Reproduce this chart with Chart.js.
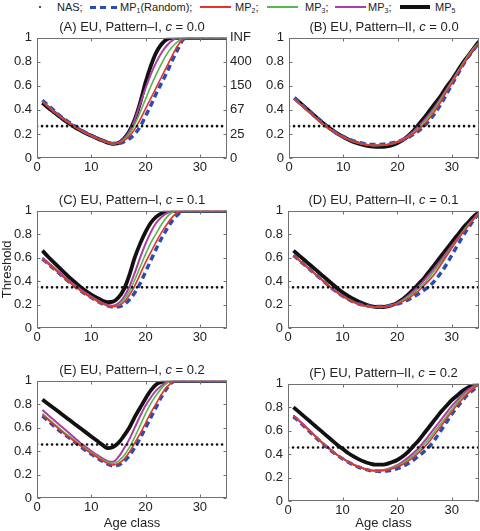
<!DOCTYPE html>
<html>
<head>
<meta charset="utf-8">
<script src="https://cdn.jsdelivr.net/npm/chart.js@4.4.1/dist/chart.umd.min.js"></script>
<style>
  body { margin: 0; background: #fff; width: 480px; height: 531px; position: relative; overflow: hidden;
         font-family: "Liberation Sans", Arial, sans-serif; color: #222; }
  canvas { position: absolute; }
  .title { position: absolute; font-size: 13px; white-space: nowrap; transform: translate(-50%, -50%); }
  .legtext { position: absolute; top: 1px; font-size: 11px; white-space: nowrap; }
  .legtext sub { font-size: 7px; vertical-align: -2px; }
  .legline { position: absolute; }
</style>
</head>
<body>
<div id="legend"></div>
<script>
// Age classes on the x axis
const ages = [1,2,3,4,5,6,7,8,9,10,11,12,13,14,15,16,17,18,19,20,21,22,23,24,25,26,27,28,29,30,31,32,33,34,35];
const xRange = [0, 35];
const rightTickLabels = ['0', '25', '67', '150', '400', 'INF'];
const nasLevels = [0.265, 0.265, 0.347, 0.347, 0.457, 0.457];
const panelLetters = ['A', 'B', 'C', 'D', 'E', 'F'];
const panelPatterns = ['I', 'II', 'I', 'II', 'I', 'II'];
const panelC = ['0.0', '0.0', '0.1', '0.1', '0.2', '0.2'];

// (A) Pattern-I, c = 0.0
const aBlue    = [.48,.44,.40,.36,.325,.295,.265,.237,.21,.188,.167,.148,.132,.12,.122,.135,.16,.20,.26,.35,.44,.54,.63,.72,.82,.91,.99,1,1,1,1,1,1,1,1];
const aRed     = [.47,.43,.39,.355,.32,.29,.26,.232,.207,.185,.165,.147,.13,.12,.125,.145,.18,.24,.32,.41,.50,.59,.68,.77,.86,.94,.99,1,1,1,1,1,1,1,1];
const aGreen   = [.47,.43,.39,.355,.32,.29,.26,.232,.207,.185,.165,.147,.13,.12,.125,.15,.20,.28,.38,.49,.60,.70,.79,.87,.93,.97,1,1,1,1,1,1,1,1,1];
const aMagenta = [.47,.43,.39,.355,.32,.29,.26,.232,.207,.185,.165,.147,.13,.12,.128,.16,.22,.32,.45,.58,.70,.80,.88,.94,.98,1,1,1,1,1,1,1,1,1,1];
const aBlack   = [.46,.42,.385,.35,.315,.285,.255,.23,.205,.185,.165,.145,.128,.117,.125,.16,.22,.32,.46,.63,.77,.88,.95,.99,1,1,1,1,1,1,1,1,1,1,1];

// (B) Pattern-II, c = 0.0
const bBlue    = [.50,.46,.42,.38,.34,.30,.263,.232,.203,.178,.157,.14,.127,.118,.113,.112,.113,.117,.125,.137,.152,.172,.198,.23,.27,.32,.38,.45,.53,.61,.69,.77,.84,.90,.96];
const bRed     = [.49,.45,.41,.37,.33,.292,.258,.227,.198,.174,.153,.135,.122,.113,.107,.105,.106,.11,.12,.132,.15,.175,.205,.24,.285,.34,.40,.47,.55,.62,.70,.77,.84,.90,.96];
const bGreen   = [.49,.45,.41,.37,.33,.292,.258,.227,.198,.174,.153,.135,.122,.113,.107,.105,.106,.11,.12,.133,.152,.178,.212,.255,.305,.36,.42,.49,.56,.63,.71,.78,.85,.91,.96];
const bMagenta = [.49,.45,.41,.37,.33,.292,.258,.227,.198,.174,.153,.135,.122,.113,.107,.105,.106,.11,.12,.135,.157,.187,.225,.27,.32,.375,.435,.50,.57,.64,.71,.78,.85,.91,.96];
const bBlack   = [.50,.46,.42,.38,.34,.30,.265,.232,.20,.175,.152,.132,.117,.105,.097,.093,.093,.097,.107,.125,.15,.185,.23,.285,.34,.40,.46,.52,.59,.65,.72,.79,.85,.91,.97];

// (C) Pattern-I, c = 0.1
const cBlue    = [.59,.55,.51,.47,.43,.39,.355,.32,.288,.26,.232,.208,.19,.18,.182,.20,.24,.30,.38,.48,.58,.68,.77,.85,.92,.97,1,1,1,1,1,1,1,1,1];
const cRed     = [.59,.55,.51,.47,.43,.39,.355,.32,.288,.26,.232,.208,.19,.183,.19,.22,.28,.36,.46,.56,.65,.74,.82,.89,.95,.99,1,1,1,1,1,1,1,1,1];
const cGreen   = [.59,.55,.51,.47,.43,.39,.355,.32,.288,.26,.232,.208,.19,.183,.195,.24,.31,.41,.52,.63,.73,.81,.89,.95,.99,1,1,1,1,1,1,1,1,1,1];
const cMagenta = [.60,.56,.52,.48,.44,.40,.365,.33,.297,.268,.24,.215,.197,.19,.21,.265,.35,.47,.60,.72,.82,.90,.95,.98,1,1,1,1,1,1,1,1,1,1,1];
const cBlack   = [.66,.61,.565,.52,.475,.43,.39,.35,.315,.285,.258,.235,.22,.225,.26,.33,.45,.60,.72,.82,.90,.95,.98,1,1,1,1,1,1,1,1,1,1,1,1];

// (D) Pattern-II, c = 0.1
const dBlue    = [.62,.58,.54,.50,.46,.42,.38,.34,.305,.272,.245,.222,.205,.193,.186,.183,.184,.188,.195,.205,.22,.24,.265,.295,.325,.36,.41,.47,.54,.62,.70,.78,.85,.92,.98];
const dRed     = [.62,.58,.54,.50,.46,.42,.38,.34,.305,.272,.245,.222,.203,.19,.182,.178,.178,.183,.193,.207,.225,.25,.285,.32,.365,.415,.47,.54,.61,.68,.75,.81,.87,.93,.98];
const dGreen   = [.62,.58,.54,.50,.46,.42,.38,.34,.305,.272,.245,.222,.203,.19,.182,.178,.178,.183,.195,.21,.235,.265,.30,.34,.385,.44,.50,.56,.62,.69,.75,.82,.88,.93,.98];
const dMagenta = [.62,.58,.54,.50,.46,.42,.38,.34,.305,.272,.245,.222,.203,.19,.182,.178,.178,.183,.195,.213,.24,.275,.315,.36,.41,.465,.52,.58,.64,.70,.76,.82,.88,.93,.98];
const dBlack   = [.66,.62,.58,.54,.50,.46,.42,.38,.34,.305,.275,.248,.225,.205,.19,.18,.178,.182,.195,.215,.245,.285,.33,.38,.43,.49,.55,.61,.67,.73,.79,.85,.90,.95,.99];

// (E) Pattern-I, c = 0.2
const eBlue    = [.70,.66,.62,.58,.545,.51,.475,.44,.405,.375,.345,.315,.29,.275,.28,.31,.36,.43,.51,.60,.69,.78,.87,.94,.99,1,1,1,1,1,1,1,1,1,1];
const eRed     = [.71,.67,.63,.59,.55,.515,.48,.445,.41,.38,.35,.32,.295,.283,.295,.33,.39,.47,.55,.64,.73,.81,.89,.95,.99,1,1,1,1,1,1,1,1,1,1];
const eGreen   = [.72,.68,.64,.60,.56,.525,.49,.455,.42,.39,.36,.33,.305,.295,.315,.36,.43,.52,.62,.72,.81,.88,.94,.98,1,1,1,1,1,1,1,1,1,1,1];
const eMagenta = [.75,.71,.67,.63,.59,.55,.51,.47,.435,.40,.37,.34,.315,.31,.35,.42,.50,.60,.70,.79,.86,.92,.96,.99,1,1,1,1,1,1,1,1,1,1,1];
const eBlack   = [.84,.805,.77,.735,.70,.665,.63,.595,.56,.525,.49,.455,.425,.435,.47,.53,.60,.69,.77,.85,.92,.97,.99,1,1,1,1,1,1,1,1,1,1,1,1];

// (F) Pattern-II, c = 0.2
const fBlue    = [.72,.68,.635,.59,.546,.504,.464,.426,.391,.36,.332,.308,.288,.272,.261,.255,.252,.255,.263,.276,.295,.32,.35,.385,.425,.47,.53,.60,.67,.74,.80,.86,.91,.95,.99];
const fRed     = [.73,.685,.64,.595,.55,.507,.467,.428,.393,.362,.334,.31,.29,.274,.263,.258,.258,.263,.274,.29,.312,.34,.375,.415,.46,.515,.575,.635,.70,.76,.82,.87,.92,.96,.99];
const fGreen   = [.73,.685,.64,.595,.55,.507,.467,.428,.393,.362,.334,.31,.29,.274,.263,.258,.26,.267,.28,.298,.323,.355,.39,.435,.485,.54,.60,.66,.72,.78,.84,.89,.93,.97,.99];
const fMagenta = [.73,.69,.645,.60,.555,.51,.47,.43,.395,.365,.337,.313,.292,.276,.265,.26,.262,.27,.285,.305,.335,.37,.41,.455,.51,.57,.63,.69,.75,.81,.86,.91,.95,.98,1];
const fBlack   = [.80,.76,.72,.68,.64,.60,.56,.52,.48,.445,.41,.38,.355,.335,.32,.31,.31,.315,.33,.35,.38,.42,.47,.52,.58,.64,.70,.76,.81,.86,.90,.94,.97,.99,1];

const FONT = '"Liberation Sans", Arial, sans-serif';

// drawing styles, in draw order (last one on top)
const seriesStyles = [
  { color: '#e5322b', width: 1.6, dash: [] },        // MP2
  { color: '#55b84a', width: 1.6, dash: [] },        // MP3
  { color: '#b03aa6', width: 2, dash: [] },          // MP3 (4th)
  { color: '#2a4db5', width: 3.5, dash: [6, 4] },    // MP1 (Random)
  { color: '#111111', width: 3.8, dash: [] }         // MP5
];

const panelSeries = [
  [aRed, aGreen, aMagenta, aBlue, aBlack],
  [bRed, bGreen, bMagenta, bBlue, bBlack],
  [cRed, cGreen, cMagenta, cBlue, cBlack],
  [dRed, dGreen, dMagenta, dBlue, dBlack],
  [eRed, eGreen, eMagenta, eBlue, eBlack],
  [fRed, fGreen, fMagenta, fBlue, fBlack]
];

// where each plot area sits on the page
const panelBoxes = [
  { left: 37,  top: 35,  w: 190, h: 123 },
  { left: 289, top: 35,  w: 190, h: 123 },
  { left: 37,  top: 208, w: 190, h: 120 },
  { left: 288, top: 208, w: 191, h: 120 },
  { left: 37,  top: 378, w: 190, h: 120 },
  { left: 288, top: 381, w: 191, h: 120 }
];

// MATLAB style box with inward ticks
const boxTicks = {
  id: 'boxTicks',
  afterDraw(chart) {
    const { ctx, chartArea: a, scales } = chart;
    const l = Math.round(a.left) + 0.5, r = Math.round(a.right) - 0.5;
    const t = Math.round(a.top) + 0.5, b = Math.round(a.bottom) - 0.5;
    ctx.save();
    ctx.strokeStyle = '#707070';
    ctx.lineWidth = 1;
    ctx.strokeRect(l, t, r - l, b - t);
    ctx.beginPath();
    scales.x.ticks.forEach(tk => {
      const px = Math.round(scales.x.getPixelForValue(tk.value)) + 0.5;
      ctx.moveTo(px, b); ctx.lineTo(px, b - 3);
      ctx.moveTo(px, t); ctx.lineTo(px, t + 3);
    });
    scales.y.ticks.forEach(tk => {
      const py = Math.round(scales.y.getPixelForValue(tk.value)) + 0.5;
      ctx.moveTo(l, py); ctx.lineTo(l + 3, py);
      ctx.moveTo(r, py); ctx.lineTo(r - 3, py);
    });
    ctx.stroke();
    ctx.restore();
  }
};

// MATLAB prints 0 and 1 without decimals
const fmtY = v => String(Math.round(v * 10) / 10);

function makePanel(i) {
  const box = panelBoxes[i];
  const hasRight = i === 0;
  const xTitle = i >= 4;
  const yTitle = i === 2;
  const padTop = 10;
  const yAxisW = 37;
  const rightW = hasRight ? 30 : 0;
  const padRight = hasRight ? 0 : 1;
  const xAxisH = xTitle ? (531 - box.top - box.h) : 20;

  const canvas = document.createElement('canvas');
  canvas.width = yAxisW + box.w + rightW + padRight;
  canvas.height = padTop + box.h + xAxisH;
  canvas.style.left = (box.left - yAxisW) + 'px';
  canvas.style.top = (box.top - padTop) + 'px';
  document.body.appendChild(canvas);

  const datasets = [{
    data: xRange.map(x => ({ x: x, y: nasLevels[i] })),
    borderColor: '#111', borderWidth: 2.6, borderDash: [0.1, 4.9], borderCapStyle: 'round'
  }];
  panelSeries[i].forEach((vals, k) => {
    const st = seriesStyles[k];
    datasets.push({
      data: ages.map((a, j) => ({ x: a, y: vals[j] })),
      borderColor: st.color,
      borderWidth: st.width,
      borderDash: st.dash,
      cubicInterpolationMode: 'monotone'
    });
  });

  const tickFont = { family: FONT, size: 13 };
  const scales = {
    x: {
      type: 'linear', min: xRange[0], max: xRange[1],
      grid: { display: false, drawTicks: false }, border: { display: false },
      ticks: { stepSize: 10, includeBounds: false, padding: 2, color: '#222', font: tickFont },
      title: { display: xTitle, text: 'Age class', padding: 0, color: '#222', font: tickFont },
      afterFit(s) { s.height = xAxisH; }
    },
    y: {
      min: 0, max: 1,
      grid: { display: false, drawTicks: false }, border: { display: false },
      ticks: { stepSize: 0.2, padding: 5, color: '#222', font: tickFont, callback: fmtY },
      title: { display: yTitle, text: 'Threshold', padding: 0, color: '#222', font: tickFont },
      afterFit(s) { s.width = yAxisW; }
    }
  };
  if (hasRight) {
    scales.y2 = {
      position: 'right', min: 0, max: 1,
      grid: { display: false, drawTicks: false }, border: { display: false },
      ticks: { stepSize: 0.2, padding: 3, color: '#222', font: tickFont,
               callback: (v, idx) => rightTickLabels[idx] },
      afterFit(s) { s.width = rightW; }
    };
  }

  new Chart(canvas.getContext('2d'), {
    type: 'line',
    data: { datasets: datasets },
    options: {
      responsive: false,
      animation: false,
      devicePixelRatio: 1,
      layout: { padding: { top: padTop, right: padRight, left: 0, bottom: 0 } },
      plugins: { legend: { display: false }, tooltip: { enabled: false } },
      elements: { point: { radius: 0 }, line: { tension: 0 } },
      scales: scales
    },
    plugins: [boxTicks]
  });

  // panel title, centred over the plot area
  const t = document.createElement('div');
  t.className = 'title';
  t.style.left = (box.left + box.w / 2) + 'px';
  t.style.top = (box.top - 9) + 'px';
  t.innerHTML = '(' + panelLetters[i] + ') EU, Pattern\u2013' + panelPatterns[i] + ', <i>c</i> = ' + panelC[i];
  document.body.appendChild(t);
}

for (let i = 0; i < 6; i++) makePanel(i);

// legend row across the top
const legendItems = [
  { text: 'NAS;', textX: 57, line: null },
  { text: 'MP<sub>1</sub>(Random);', textX: 120, line: { x: 90, w: 27, color: '#2a4db5', h: 3, dash: true } },
  { text: 'MP<sub>2</sub>;', textX: 235, line: { x: 200, w: 31, color: '#e5322b', h: 2 } },
  { text: 'MP<sub>3</sub>;', textX: 305, line: { x: 267, w: 31, color: '#55b84a', h: 2 } },
  { text: 'MP<sub>3</sub>;', textX: 368, line: { x: 335, w: 31, color: '#b03aa6', h: 2 } },
  { text: 'MP<sub>5</sub>', textX: 435, line: { x: 400, w: 30, color: '#111', h: 4 } }
];
const legend = document.getElementById('legend');
const dot = document.createElement('div');
dot.style.cssText = 'position:absolute;left:39px;top:6px;width:2px;height:2px;border-radius:1px;background:#111;';
legend.appendChild(dot);
legendItems.forEach(it => {
  const s = document.createElement('div');
  s.className = 'legtext';
  s.style.left = it.textX + 'px';
  s.innerHTML = it.text;
  legend.appendChild(s);
  if (it.line) {
    const l = document.createElement('div');
    l.className = 'legline';
    l.style.left = it.line.x + 'px';
    l.style.width = it.line.w + 'px';
    l.style.height = it.line.h + 'px';
    l.style.top = (7 - it.line.h / 2) + 'px';
    l.style.background = it.line.dash
      ? 'repeating-linear-gradient(90deg,' + it.line.color + ' 0 6px, transparent 6px 10.5px)'
      : it.line.color;
    legend.appendChild(l);
  }
});
</script>
</body>
</html>
